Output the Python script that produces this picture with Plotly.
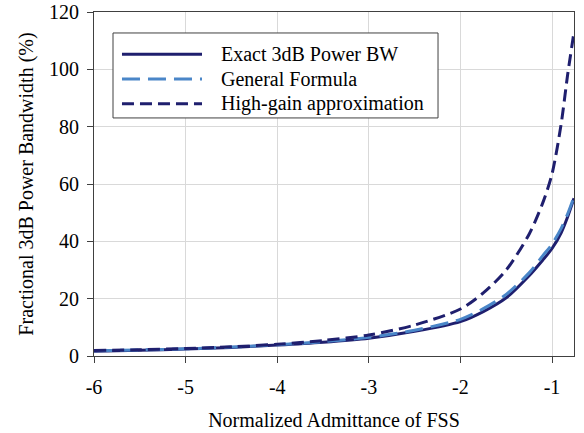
import plotly.graph_objects as go

x_vals = [-6, -5.5, -5, -4.5, -4, -3.5, -3, -2.5, -2, -1.75, -1.5, -1.25, -1.1, -1.0, -0.9, -0.83, -0.76]
exact_bw = [1.7, 2.0, 2.4, 3.0, 3.8, 4.8, 6.2, 8.6, 12.0, 15.5, 20.3, 28, 33.5, 37.5, 43, 48.5, 55]
general_bw = [1.8, 2.1, 2.5, 3.1, 3.9, 5.0, 6.5, 9.0, 12.8, 16.5, 21.5, 29, 35, 39, 44.5, 49.5, 55.5]
highgain_bw = [1.9, 2.2, 2.6, 3.2, 4.1, 5.4, 7.3, 10.8, 16.4, 22, 30, 42.5, 53.5, 63.5, 81, 98, 113]

names = ["Exact 3dB Power BW", "General Formula", "High-gain approximation"]
colors = ["#1F1F6E", "#4A86C8", "#1F1F6E"]
dashes = ["solid", "18px,8px", "12px,6px"]
x_ticks = [-6, -5, -4, -3, -2, -1]
x_ticktext = ["-6", "-5", "-4", "-3", "-2", "-1"]
y_ticks = [0, 20, 40, 60, 80, 100, 120]

FONT = "Liberation Serif, Times New Roman, serif"

fig = go.Figure()
for series, name, c, d in zip([exact_bw, general_bw, highgain_bw], names, colors, dashes):
    fig.add_trace(go.Scatter(x=x_vals, y=series, mode="lines", name=name,
                             line=dict(color=c, width=3, dash=d, shape="spline", smoothing=0.8),
                             showlegend=False))

# custom legend (box, samples, labels)
fig.add_shape(type="rect", xref="paper", yref="paper", x0=0.0396, x1=0.7167, y0=0.692, y1=0.939,
              line=dict(color="#404040", width=1), fillcolor="white", layer="above")
rows = [0.877, 0.805, 0.733]
for name, c, d, ry in zip(names, colors, dashes, rows):
    fig.add_shape(type="line", xref="paper", yref="paper", x0=0.0583, x1=0.225, y0=ry, y1=ry,
                  line=dict(color=c, width=3, dash=d), layer="above")
    fig.add_annotation(xref="paper", yref="paper", x=0.2667, y=ry, text=name, showarrow=False,
                       xanchor="left", yanchor="middle", xshift=-3,
                       font=dict(family=FONT, size=20, color="#000000"))

fig.update_layout(
    width=584, height=433,
    margin=dict(l=94, r=10, t=12, b=77),
    paper_bgcolor="white", plot_bgcolor="white",
    font=dict(family=FONT, size=20, color="#000000"),
    hovermode=False,
)
fig.update_xaxes(range=[-6, -0.76], tickvals=x_ticks, ticktext=x_ticktext, ticks="outside", ticklen=6,
                 tickcolor="#404040", automargin=False,
                 showline=True, linecolor="#404040", linewidth=1, mirror=True,
                 showgrid=True, gridcolor="#D9D9D9", gridwidth=1, zeroline=False,
                 ticklabelstandoff=7,
                 title=dict(text="Normalized Admittance of FSS", font=dict(size=20), standoff=15))
fig.update_yaxes(range=[0, 120], tickvals=y_ticks, ticks="outside", ticklen=6, tickcolor="#404040",
                 automargin=False, ticklabeloverflow="allow",
                 showline=True, linecolor="#404040", linewidth=1, mirror=True,
                 showgrid=True, gridcolor="#D9D9D9", gridwidth=1, zeroline=False,
                 ticklabelstandoff=4,
                 title=dict(text="Fractional 3dB Power Bandwidth (%)", font=dict(size=20), standoff=10))

fig.write_html("out.html", config={"displayModeBar": False},
               post_script="document.body.style.margin='0';")
